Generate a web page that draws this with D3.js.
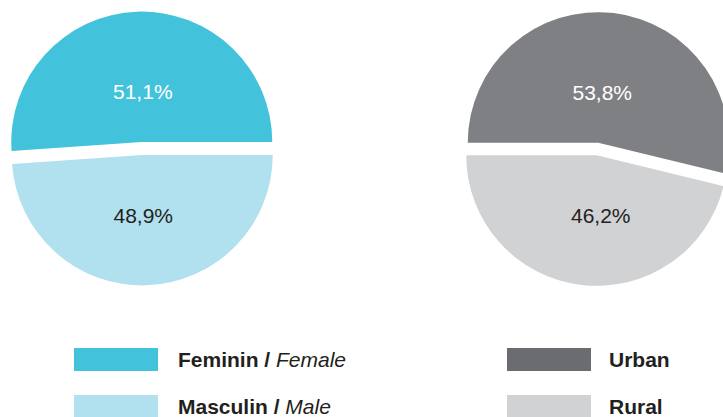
<!DOCTYPE html>
<html>
<head>
<meta charset="utf-8">
<script src="https://cdn.jsdelivr.net/npm/d3@7"></script>
<style>
  body { margin: 0; background: #fff; }
  svg { display: block; font-family: 'Liberation Sans', Arial, sans-serif; }
</style>
</head>
<body>
<div id="chart"></div>
<script>
'use strict'

// sexe
const genderNames = ['Feminin', 'Masculin']
const genderNamesEn = ['Female', 'Male']
const genderValues = [51.1, 48.9]
const genderColors = ['#43c3db', '#b1e1ee']
const genderLegendColors = ['#43c3db', '#b1e1ee']
const genderTextColors = ['#ffffff', '#231f20']

// milieu
const areaNames = ['Urban', 'Rural']
const areaValues = [53.8, 46.2]
const areaColors = ['#7f8084', '#d1d2d4']
const areaLegendColors = ['#6b6c70', '#d1d2d4']
const areaTextColors = ['#ffffff', '#231f20']

const width = 723
const height = 417
const radius = 130.5
const explode = 6.4

const svg = d3.select('#chart')
  .append('svg')
  .attr('width', width)
  .attr('height', height)

const fmt = v => d3.format('.1f')(v).replace('.', ',') + '%'

function drawPie (cx, cy, values, colors, textColors, a0, a1, labelShift) {
  const pie = d3.pie().sort(null).startAngle(a0).endAngle(a1)
  const arc = d3.arc().innerRadius(0).outerRadius(radius)
  const labelArc = d3.arc().innerRadius(0).outerRadius(radius * 0.85)

  const g = svg.append('g').attr('transform', `translate(${cx}, ${cy})`)

  const slices = g.selectAll('g.slice')
    .data(pie(values))
    .enter()
    .append('g')
    .attr('class', 'slice')
    .attr('transform', d => {
      const mid = (d.startAngle + d.endAngle) / 2
      return `translate(${Math.sin(mid) * explode}, ${-Math.cos(mid) * explode})`
    })

  slices.append('path')
    .attr('d', arc)
    .style('fill', (d, i) => colors[i])

  // etiquettes centrees sur l'axe vertical de la tranche
  slices.append('text')
    .attr('transform', d => `translate(${labelShift}, ${labelArc.centroid(d)[1]})`)
    .attr('dy', '0.6em')
    .attr('text-anchor', 'middle')
    .style('font-size', '21px')
    .style('fill', (d, i) => textColors[i])
    .text(d => fmt(d.data))
}

drawPie(142, 148.5, genderValues, genderColors, genderTextColors, Math.PI / 2, Math.PI / 2 - 2 * Math.PI, 1)
drawPie(597.5, 149, areaValues, areaColors, areaTextColors, -Math.PI / 2, 1.5 * Math.PI, 4)

// legendes
const rowY = d3.scalePoint().domain([0, 1]).range([348, 395])

function drawLegend (x, textX, names, namesEn, colors) {
  const g = svg.append('g')
  const rows = g.selectAll('g.row')
    .data(names)
    .enter()
    .append('g')
    .attr('class', 'row')
    .attr('transform', (d, i) => `translate(0, ${rowY(i)})`)

  rows.append('rect')
    .attr('x', x)
    .attr('y', 0)
    .attr('width', 84)
    .attr('height', 23)
    .style('fill', (d, i) => colors[i])

  const t = rows.append('text')
    .attr('x', textX)
    .attr('y', 19)
    .style('font-size', '21px')
    .style('fill', '#231f20')

  t.append('tspan')
    .style('font-weight', 'bold')
    .text((d, i) => namesEn ? d + ' / ' : d)

  if (namesEn) {
    t.append('tspan')
      .style('font-style', 'italic')
      .text((d, i) => namesEn[i])
  }
}

drawLegend(74, 178, genderNames, genderNamesEn, genderLegendColors)
drawLegend(507, 609, areaNames, null, areaLegendColors)
</script>
</body>
</html>
